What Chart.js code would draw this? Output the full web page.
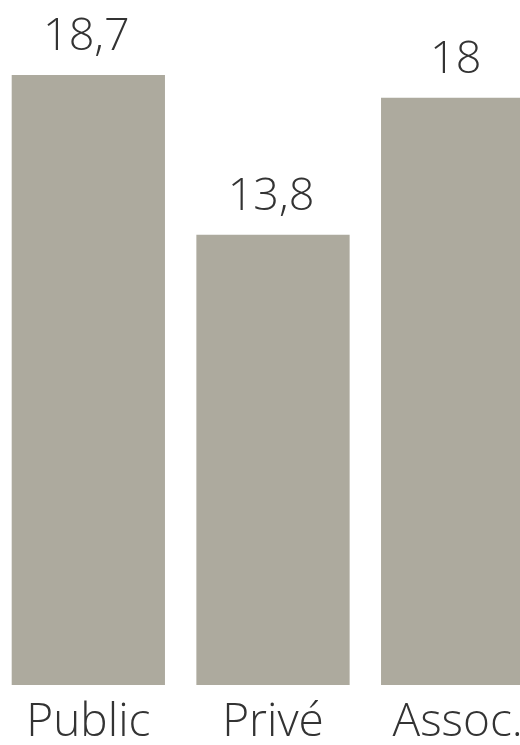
<!DOCTYPE html>
<html>
<head>
<meta charset="utf-8">
<script src="https://cdn.jsdelivr.net/npm/chart.js@4"></script>
<style>
  html, body { margin: 0; padding: 0; background: #fff; overflow: hidden; }
  #wrap { position: absolute; left: -4px; top: 0; width: 554px; height: 745px; }
</style>
</head>
<body>
<div id="wrap"><canvas id="c"></canvas></div>
<script>
const categories = ['Public', 'Privé', 'Assoc.'];
const values = [18.7, 13.8, 18];
const valueLabels = ['18,7', '13,8', '18'];

const barColor = '#adaa9e';
const textColor = '#333333';
const fontFamily = '"Open Sans", "DejaVu Sans", sans-serif';

// values above the bars
const valueLabelPlugin = {
  id: 'valueLabels',
  afterDatasetsDraw(chart) {
    const { ctx } = chart;
    const meta = chart.getDatasetMeta(0);
    ctx.save();
    ctx.fillStyle = textColor;
    ctx.font = '300 45px ' + fontFamily;
    ctx.textAlign = 'center';
    ctx.textBaseline = 'alphabetic';
    meta.data.forEach((bar, i) => {
      ctx.fillText(valueLabels[i], bar.x - 2, bar.y - 25);
    });
    ctx.restore();
  },
};

new Chart(document.getElementById('c'), {
  type: 'bar',
  data: {
    labels: categories,
    datasets: [{
      data: values,
      backgroundColor: barColor,
      borderWidth: 0,
      barPercentage: 1,
      categoryPercentage: 0.83,
    }],
  },
  options: {
    responsive: true,
    maintainAspectRatio: false,
    animation: false,
    layout: { padding: 0 },
    plugins: {
      legend: { display: false },
      tooltip: { enabled: false },
    },
    scales: {
      y: {
        display: false,
        min: 0,
        max: 21,
      },
      x: {
        border: { display: false },
        grid: { display: false, drawTicks: false },
        ticks: {
          color: textColor,
          padding: 10,
          font: { family: fontFamily, size: 46, weight: '300' },
        },
        afterFit(scale) { scale.height = 60; },
      },
    },
  },
  plugins: [valueLabelPlugin],
});
</script>
</body>
</html>
